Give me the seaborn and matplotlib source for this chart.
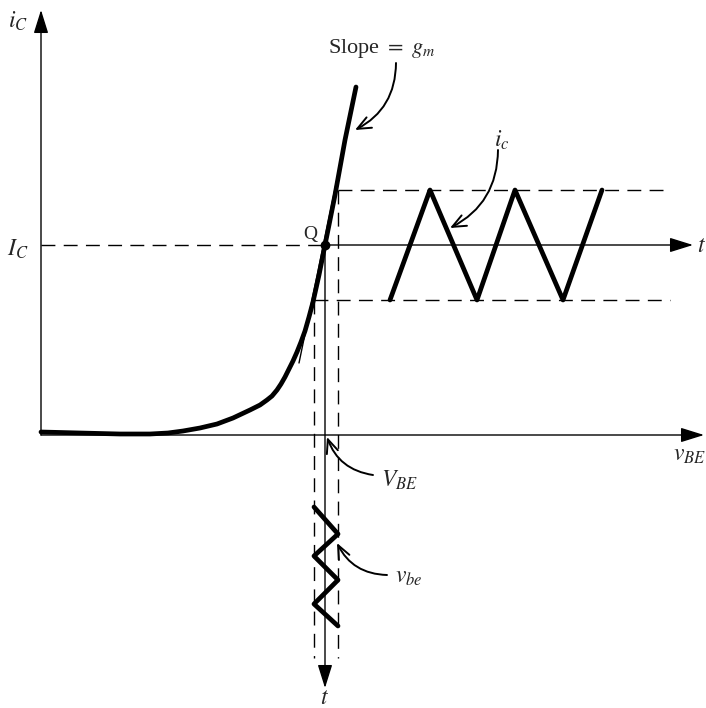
import numpy as np
import pandas as pd
import matplotlib
matplotlib.use("Agg")
import matplotlib.pyplot as plt
import seaborn as sns

sns.set_theme(style="white")
plt.rcParams['font.family'] = ['Liberation Serif', 'DejaVu Serif']
plt.rcParams['mathtext.fontset'] = 'stix'

# ---- data (diagram units: x to the right, y downward as in the drawing) ----
# transfer characteristic i_C(v_BE)
curve_x = [41, 80, 120, 150, 168, 183, 200, 217, 233, 250, 260, 267, 272, 277, 281, 285,
           289, 293, 297, 301, 305, 309, 313, 319, 325, 335, 345, 356]
curve_y = [432, 433, 434, 434, 433, 431, 428, 424, 418, 410, 405, 400, 396, 390, 384, 377,
           369, 361, 352, 342, 331, 317, 302, 275, 245, 195, 140, 87]
# tangent at Q (slope = g_m)
tangent_x = [299, 356]
tangent_y = [363, 87]
# collector current waveform i_c (time runs to the right)
ic_x = [390, 430, 477, 515, 563, 602]
ic_y = [300, 190, 300, 190, 300, 190]
# base-emitter voltage waveform v_be (time runs downward)
vbe_x = [314, 338, 314, 338, 314, 338]
vbe_y = [507, 534, 556, 580, 604, 626]
# operating point
Q = (325, 245)
ic_top, ic_bot = 190, 300
vbe_left, vbe_right = 314, 338

fig = plt.figure(figsize=(7.06, 7.08), dpi=100)
ax = fig.add_axes([0, 0, 1, 1])
ax.set_xlim(0, 706)
ax.set_ylim(708, 0)
ax.axis('off')

k = 'black'
thin = 1.0
thick = 3.4
dash = (0, (10, 6))

def arrow(x0, y0, x1, y1, lw=1.0, hl=0.8, hw=0.25, ms=18):
    ax.annotate('', xy=(x1, y1), xytext=(x0, y0),
                arrowprops=dict(arrowstyle=f'-|>,head_length={hl},head_width={hw}',
                                mutation_scale=ms, lw=lw, color=k,
                                shrinkA=0, shrinkB=0))

def pointer(x0, y0, x1, y1, rad=-0.3):
    ax.annotate('', xy=(x1, y1), xytext=(x0, y0),
                arrowprops=dict(arrowstyle='->,head_length=0.7,head_width=0.3',
                                mutation_scale=14, lw=1.4, color=k,
                                shrinkA=0, shrinkB=0,
                                connectionstyle=f'arc3,rad={rad}'))

# axes
arrow(41, 435, 41, 10)
arrow(41, 435, 704, 435)
# time axes through Q
arrow(Q[0], Q[1], 693, Q[1])
arrow(Q[0], Q[1], Q[0], 688)

# dashed guide lines
ax.plot([41, Q[0]], [Q[1], Q[1]], color=k, lw=thin, ls=dash)
ax.plot([vbe_right, 670], [ic_top, ic_top], color=k, lw=thin, ls=dash)
ax.plot([vbe_left, 670], [ic_bot, ic_bot], color=k, lw=thin, ls=dash)
ax.plot([vbe_left, vbe_left], [ic_bot, 658], color=k, lw=thin, ls=dash)
ax.plot([vbe_right, vbe_right], [ic_top, 658], color=k, lw=thin, ls=dash)

# characteristic, tangent and waveforms
sns.lineplot(x=curve_x, y=curve_y, sort=False, estimator=None, color=k, lw=thick, ax=ax)
sns.lineplot(x=tangent_x, y=tangent_y, sort=False, estimator=None, color=k, lw=1.0, ax=ax)
sns.lineplot(x=ic_x, y=ic_y, sort=False, estimator=None, color=k, lw=thick, ax=ax)
sns.lineplot(x=vbe_x, y=vbe_y, sort=False, estimator=None, color=k, lw=thick, ax=ax)
ax.plot(*Q, 'o', color=k, ms=6)

# labels
fs = 17
ax.text(8, 21, '$i_C$', fontsize=fs, ha='left', va='center')
ax.text(7, 249, '$I_C$', fontsize=fs, ha='left', va='center')
ax.text(310, 235, 'Q', fontsize=14, ha='center', va='center')
ax.text(328, 48, 'Slope $=$ $g_m$', fontsize=16, ha='left', va='center')
ax.text(494, 140, '$i_c$', fontsize=fs, ha='left', va='center')
ax.text(697, 246, '$t$', fontsize=fs, ha='left', va='center')
ax.text(325, 699, '$t$', fontsize=fs, ha='center', va='center')
ax.text(673, 455, '$v_{BE}$', fontsize=fs, ha='left', va='center')
ax.text(381, 480, '$V_{BE}$', fontsize=fs, ha='left', va='center')
ax.text(395, 577, '$v_{be}$', fontsize=fs, ha='left', va='center')

# pointers
pointer(396, 63, 355, 130)
pointer(498, 150, 450, 228)
pointer(373, 475, 327, 437)
pointer(387, 575, 337, 543)

fig.savefig('out.png', dpi=100, facecolor='white')
